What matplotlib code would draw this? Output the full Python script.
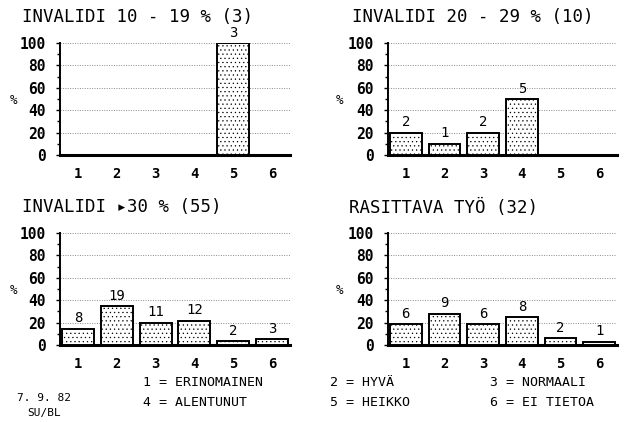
import matplotlib
matplotlib.use("Agg")
import matplotlib.pyplot as plt
import numpy as np

W, H = 627, 422

categories = [1, 2, 3, 4, 5, 6]

titles = ["INVALIDI 10 - 19 % (3)", "INVALIDI 20 - 29 % (10)",
          "INVALIDI \u25B830 % (55)", "RASITTAVA TYÖ (32)"]
totals = [3, 10, 55, 32]
# counts per category (shown above the bars); bar height = share of total in %
counts_10_19 = [0, 0, 0, 0, 3, 0]
counts_20_29 = [2, 1, 2, 5, 0, 0]
counts_30 = [8, 19, 11, 12, 2, 3]
counts_rasittava = [6, 9, 6, 8, 2, 1]

legend_rows = [["1 = ERINOMAINEN", "2 = HYVÄ", "3 = NORMAALI"],
               ["4 = ALENTUNUT", "5 = HEIKKO", "6 = EI TIETOA"]]
stamp = ["7. 9. 82", "SU/BL"]

plt.rcParams['font.family'] = ['DejaVu Sans Mono']
plt.rcParams['hatch.color'] = '#c4c4c4'
plt.rcParams['hatch.linewidth'] = 0.4

fig = plt.figure(figsize=(W / 100, H / 100), dpi=100)
fig.patch.set_facecolor('white')


def px(x, y):
    return x / W, 1 - y / H


# panel boxes in pixels: left, top(100), right, bottom(0)
boxes = [(60, 43, 290, 155), (388, 43, 617, 155),
         (60, 233, 290, 345), (388, 233, 617, 345)]
title_pos = [(22, 17), (352, 17), (22, 207), (349, 208)]
pct_pos = [(13, 100), (339, 100), (13, 290), (339, 290)]
all_counts = [counts_10_19, counts_20_29, counts_30, counts_rasittava]

for i in range(4):
    l, t, r, b = boxes[i]
    ax = fig.add_axes([l / W, 1 - b / H, (r - l) / W, (b - t) / H])
    counts = np.array(all_counts[i], dtype=float)
    pct = counts / totals[i] * 100
    shown = counts > 0
    xs = np.array(categories)
    ax.bar(xs[shown], pct[shown], width=0.82, facecolor='white',
           edgecolor='black', linewidth=1.4, hatch='....', zorder=3)
    for x, p, c in zip(xs[shown], pct[shown], counts[shown]):
        ax.text(x, p + 3, str(int(c)), ha='center', va='bottom',
                fontsize=10, zorder=4)
    ax.set_xlim(0.54, 6.46)
    ax.set_ylim(0, 100)
    ax.set_yticks([0, 20, 40, 60, 80, 100])
    ax.set_yticks(np.arange(0, 101, 10), minor=True)
    ax.set_xticks(categories)
    ax.set_xticklabels([str(c) for c in categories])
    ax.tick_params(axis='x', length=0, pad=9, labelsize=10)
    ax.tick_params(axis='y', which='major', length=3, width=1, pad=7, labelsize=10.5)
    ax.tick_params(axis='y', which='minor', length=2, width=1)
    for lab in ax.get_xticklabels() + ax.get_yticklabels():
        lab.set_fontweight('bold')
    ax.yaxis.grid(True, linestyle=(0, (1, 1.5)), color='#8a8a8a', linewidth=0.7, zorder=0)
    ax.spines['top'].set_visible(False)
    ax.spines['right'].set_visible(False)
    ax.spines['left'].set_linewidth(1.4)
    ax.spines['bottom'].set_linewidth(2.2)
    ax.patch.set_alpha(0)

    tx, ty = title_pos[i]
    fig.text(*px(tx, ty), titles[i], fontsize=12.5, ha='left', va='center')
    fig.text(*px(*pct_pos[i]), "%", fontsize=9, ha='center', va='center')

# category legend at the bottom
col_x = [143, 330, 490]
row_y = [382, 402]
for r, row in enumerate(legend_rows):
    for c, txt in enumerate(row):
        fig.text(*px(col_x[c], row_y[r]), txt, fontsize=9.5, ha='left', va='center')

fig.text(*px(17, 398), stamp[0], fontsize=8, ha='left', va='center')
fig.text(*px(27, 413), stamp[1], fontsize=8, ha='left', va='center')

fig.savefig("out.png", dpi=100, facecolor='white')
